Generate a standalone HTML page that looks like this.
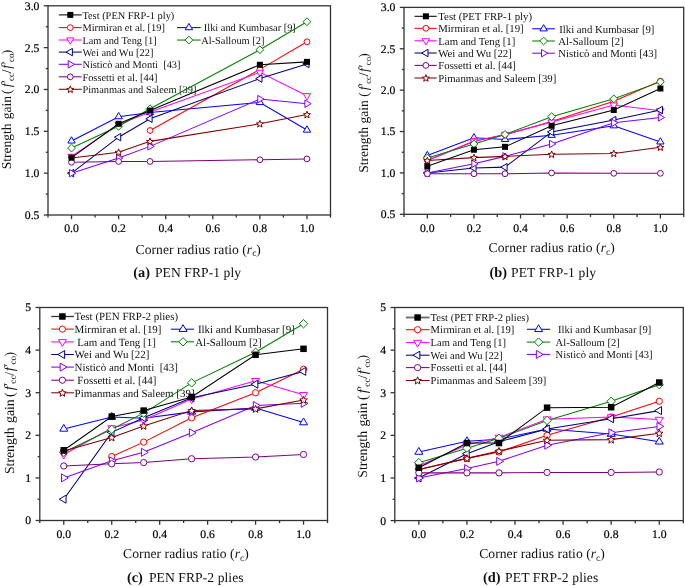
<!DOCTYPE html>
<html><head><meta charset="utf-8"><style>
html,body{margin:0;padding:0;background:#fff;}
svg{display:block;will-change:transform;}
text{font-family:"Liberation Serif",serif;fill:#111;text-rendering:geometricPrecision;}
.tk{font-size:11.7px;fill:#000;stroke:#000;stroke-width:0.2px;}
.lg{font-size:10.4px;}
.al{font-size:13.6px;}
.cp{font-size:13.6px;}
</style></head><body>
<svg width="685" height="586" viewBox="0 0 685 586">
<rect width="685" height="586" fill="#fff"/>
<line x1="58.8" y1="14.9" x2="81.7" y2="14.9" stroke="#000000" stroke-width="1.05"/>
<rect x="67.30" y="11.90" width="6.00" height="6.00" fill="#000000"/>
<text x="82.4" y="18.60" class="lg" style="font-size:10.4px" xml:space="preserve">Test (PEN FRP-1 ply)</text>
<line x1="58.8" y1="27.6" x2="81.7" y2="27.6" stroke="#ff0000" stroke-width="1.05"/>
<circle cx="70.30" cy="27.60" r="2.90" fill="#fff" stroke="#ff0000" stroke-width="1.0"/>
<text x="82.4" y="31.30" class="lg" style="font-size:10.4px" xml:space="preserve">Mirmiran et al. [19]</text>
<line x1="58.8" y1="40.0" x2="81.7" y2="40.0" stroke="#ff00ff" stroke-width="1.05"/>
<path d="M70.30 44.20L74.00 37.90L66.60 37.90Z" fill="#fff" stroke="#ff00ff" stroke-width="1.0" stroke-linejoin="miter"/>
<text x="82.4" y="43.70" class="lg" style="font-size:10.4px" xml:space="preserve">Lam and Teng [1]</text>
<line x1="58.8" y1="52.1" x2="81.7" y2="52.1" stroke="#000080" stroke-width="1.05"/>
<path d="M66.10 52.10L72.40 48.40L72.40 55.80Z" fill="#fff" stroke="#000080" stroke-width="1.0" stroke-linejoin="miter"/>
<text x="82.4" y="55.80" class="lg" style="font-size:10.4px" xml:space="preserve">Wei and Wu [22]</text>
<line x1="58.8" y1="64.3" x2="81.7" y2="64.3" stroke="#8000ff" stroke-width="1.05"/>
<path d="M74.50 64.30L68.20 60.60L68.20 68.00Z" fill="#fff" stroke="#8000ff" stroke-width="1.0" stroke-linejoin="miter"/>
<text x="82.4" y="68.00" class="lg" style="font-size:10.4px" xml:space="preserve">Nisticò&#160;and&#160;Monti&#160;&#160;[43]</text>
<line x1="58.8" y1="76.8" x2="81.7" y2="76.8" stroke="#800080" stroke-width="1.05"/>
<circle cx="70.30" cy="76.80" r="2.90" fill="#fff" stroke="#800080" stroke-width="1.0"/>
<text x="82.4" y="80.50" class="lg" style="font-size:10.4px" xml:space="preserve">Fossetti et al. [44]</text>
<line x1="58.8" y1="89.3" x2="81.7" y2="89.3" stroke="#800000" stroke-width="1.05"/>
<path d="M70.30 85.90L71.24 88.31L73.82 88.46L71.82 90.09L72.47 92.59L70.30 91.20L68.13 92.59L68.78 90.09L66.78 88.46L69.36 88.31Z" fill="#fff" stroke="#800000" stroke-width="1.0"/>
<text x="82.4" y="93.00" class="lg" style="font-size:10.4px" xml:space="preserve">Pimanmas and Saleem [39]</text>
<line x1="177.0" y1="27.6" x2="200.7" y2="27.6" stroke="#0000ff" stroke-width="1.05"/>
<path d="M188.90 23.40L192.60 29.70L185.20 29.70Z" fill="#fff" stroke="#0000ff" stroke-width="1.0" stroke-linejoin="miter"/>
<text x="201.2" y="31.30" class="lg" style="font-size:10.4px" xml:space="preserve">&#160;Ilki&#160;and&#160;Kumbasar&#160;[9]</text>
<line x1="177.0" y1="40.05" x2="200.7" y2="40.05" stroke="#008000" stroke-width="1.05"/>
<path d="M188.90 36.15L192.80 40.05L188.90 43.95L185.00 40.05Z" fill="#fff" stroke="#008000" stroke-width="1.0"/>
<text x="201.2" y="43.75" class="lg" style="font-size:10.4px" xml:space="preserve">Al-Salloum [2]</text>
<line x1="414.5" y1="16.3" x2="436.7" y2="16.3" stroke="#000000" stroke-width="1.05"/>
<rect x="422.90" y="13.30" width="6.00" height="6.00" fill="#000000"/>
<text x="438.3" y="20.00" class="lg" style="font-size:10.75px" xml:space="preserve">Test (PET FRP-1 ply)</text>
<line x1="414.5" y1="28.3" x2="436.7" y2="28.3" stroke="#ff0000" stroke-width="1.05"/>
<circle cx="425.90" cy="28.30" r="2.90" fill="#fff" stroke="#ff0000" stroke-width="1.0"/>
<text x="438.3" y="32.00" class="lg" style="font-size:10.75px" xml:space="preserve">Mirmiran et al. [19]</text>
<line x1="414.5" y1="40.8" x2="436.7" y2="40.8" stroke="#ff00ff" stroke-width="1.05"/>
<path d="M425.90 45.00L429.60 38.70L422.20 38.70Z" fill="#fff" stroke="#ff00ff" stroke-width="1.0" stroke-linejoin="miter"/>
<text x="438.3" y="44.50" class="lg" style="font-size:10.75px" xml:space="preserve">Lam and Teng [1]</text>
<line x1="414.5" y1="53.0" x2="436.7" y2="53.0" stroke="#000080" stroke-width="1.05"/>
<path d="M421.70 53.00L428.00 49.30L428.00 56.70Z" fill="#fff" stroke="#000080" stroke-width="1.0" stroke-linejoin="miter"/>
<text x="438.3" y="56.70" class="lg" style="font-size:10.75px" xml:space="preserve">Wei and Wu [22]</text>
<line x1="414.5" y1="65.4" x2="436.7" y2="65.4" stroke="#800080" stroke-width="1.05"/>
<circle cx="425.90" cy="65.40" r="2.90" fill="#fff" stroke="#800080" stroke-width="1.0"/>
<text x="438.3" y="69.10" class="lg" style="font-size:10.75px" xml:space="preserve">Fossetti et al. [44]</text>
<line x1="414.5" y1="78.0" x2="436.7" y2="78.0" stroke="#800000" stroke-width="1.05"/>
<path d="M425.90 74.60L426.84 77.01L429.42 77.16L427.42 78.79L428.07 81.29L425.90 79.90L423.73 81.29L424.38 78.79L422.38 77.16L424.96 77.01Z" fill="#fff" stroke="#800000" stroke-width="1.0"/>
<text x="438.3" y="81.70" class="lg" style="font-size:10.75px" xml:space="preserve">Pimanmas and Saleem [39]</text>
<line x1="532.2" y1="28.8" x2="554.9" y2="28.8" stroke="#0000ff" stroke-width="1.05"/>
<path d="M543.60 24.60L547.30 30.90L539.90 30.90Z" fill="#fff" stroke="#0000ff" stroke-width="1.0" stroke-linejoin="miter"/>
<text x="556.5" y="32.50" class="lg" style="font-size:10.75px" xml:space="preserve">&#160;Ilki&#160;and&#160;Kumbasar&#160;[9]</text>
<line x1="532.2" y1="41.0" x2="554.9" y2="41.0" stroke="#008000" stroke-width="1.05"/>
<path d="M543.60 37.10L547.50 41.00L543.60 44.90L539.70 41.00Z" fill="#fff" stroke="#008000" stroke-width="1.0"/>
<text x="558.3" y="44.70" class="lg" style="font-size:10.75px" xml:space="preserve">Al-Salloum [2]</text>
<line x1="532.2" y1="53.2" x2="554.9" y2="53.2" stroke="#8000ff" stroke-width="1.05"/>
<path d="M547.80 53.20L541.50 49.50L541.50 56.90Z" fill="#fff" stroke="#8000ff" stroke-width="1.0" stroke-linejoin="miter"/>
<text x="558.3" y="56.90" class="lg" style="font-size:10.75px" xml:space="preserve">Nisticò and Monti [43]</text>
<line x1="51.2" y1="316.5" x2="73.9" y2="316.5" stroke="#333" stroke-width="1.3"/>
<rect x="59.16" y="313.26" width="6.48" height="6.48" fill="#000000"/>
<text x="74.6" y="320.20" class="lg" style="font-size:10.95px" xml:space="preserve">Test (PEN FRP-2 plies)</text>
<line x1="51.2" y1="329.1" x2="73.9" y2="329.1" stroke="#ff0000" stroke-width="1.05"/>
<circle cx="62.40" cy="329.10" r="3.13" fill="#fff" stroke="#ff0000" stroke-width="1.0"/>
<text x="74.6" y="332.80" class="lg" style="font-size:10.95px" xml:space="preserve">Mirmiran et al. [19]</text>
<line x1="51.2" y1="341.9" x2="73.9" y2="341.9" stroke="#ff00ff" stroke-width="1.05"/>
<path d="M62.40 346.44L66.40 339.63L58.40 339.63Z" fill="#fff" stroke="#ff00ff" stroke-width="1.0" stroke-linejoin="miter"/>
<text x="74.6" y="345.60" class="lg" style="font-size:10.95px" xml:space="preserve">&#160;Lam&#160;and&#160;Teng&#160;[1]</text>
<line x1="51.2" y1="354.5" x2="73.9" y2="354.5" stroke="#000080" stroke-width="1.05"/>
<path d="M57.86 354.50L64.67 350.50L64.67 358.50Z" fill="#fff" stroke="#000080" stroke-width="1.0" stroke-linejoin="miter"/>
<text x="74.6" y="358.20" class="lg" style="font-size:10.95px" xml:space="preserve">Wei and Wu [22]</text>
<line x1="51.2" y1="367.1" x2="73.9" y2="367.1" stroke="#8000ff" stroke-width="1.05"/>
<path d="M66.94 367.10L60.13 363.10L60.13 371.10Z" fill="#fff" stroke="#8000ff" stroke-width="1.0" stroke-linejoin="miter"/>
<text x="74.6" y="370.80" class="lg" style="font-size:10.95px" xml:space="preserve">Nisticò&#160;and&#160;Monti&#160;&#160;[43]</text>
<line x1="51.2" y1="380.2" x2="73.9" y2="380.2" stroke="#800080" stroke-width="1.05"/>
<circle cx="62.40" cy="380.20" r="3.13" fill="#fff" stroke="#800080" stroke-width="1.0"/>
<text x="74.6" y="383.90" class="lg" style="font-size:10.95px" xml:space="preserve">&#160;Fossetti&#160;et&#160;al.&#160;[44]</text>
<line x1="51.2" y1="392.8" x2="73.9" y2="392.8" stroke="#800000" stroke-width="1.05"/>
<path d="M62.40 389.10L63.42 391.70L66.20 391.87L64.04 393.63L64.75 396.33L62.40 394.83L60.05 396.33L60.76 393.63L58.60 391.87L61.38 391.70Z" fill="#fff" stroke="#800000" stroke-width="1.0"/>
<text x="74.6" y="396.50" class="lg" style="font-size:10.95px" xml:space="preserve">Pimanmas and Saleem [39]</text>
<line x1="170.8" y1="329.2" x2="194.0" y2="329.2" stroke="#0000ff" stroke-width="1.05"/>
<path d="M183.00 324.66L187.00 331.47L179.00 331.47Z" fill="#fff" stroke="#0000ff" stroke-width="1.0" stroke-linejoin="miter"/>
<text x="195.2" y="332.90" class="lg" style="font-size:10.95px" xml:space="preserve">&#160;Ilki&#160;and&#160;Kumbasar&#160;[9]</text>
<line x1="170.8" y1="341.8" x2="194.0" y2="341.8" stroke="#008000" stroke-width="1.05"/>
<path d="M183.00 337.59L187.21 341.80L183.00 346.01L178.79 341.80Z" fill="#fff" stroke="#008000" stroke-width="1.0"/>
<text x="195.2" y="345.50" class="lg" style="font-size:10.95px" xml:space="preserve">Al-Salloum [2]</text>
<line x1="405.9" y1="317.5" x2="429.6" y2="317.5" stroke="#707070" stroke-width="1.9"/>
<rect x="414.36" y="314.26" width="6.48" height="6.48" fill="#000000"/>
<text x="430.6" y="321.20" class="lg" style="font-size:10.55px" xml:space="preserve">Test (PET FRP-2 plies)</text>
<line x1="405.9" y1="329.7" x2="429.6" y2="329.7" stroke="#ff0000" stroke-width="1.05"/>
<circle cx="417.60" cy="329.70" r="3.13" fill="#fff" stroke="#ff0000" stroke-width="1.0"/>
<text x="430.6" y="333.40" class="lg" style="font-size:10.55px" xml:space="preserve">Mirmiran et al. [19]</text>
<line x1="405.9" y1="342.6" x2="429.6" y2="342.6" stroke="#ff00ff" stroke-width="1.05"/>
<path d="M417.60 347.14L421.60 340.33L413.60 340.33Z" fill="#fff" stroke="#ff00ff" stroke-width="1.0" stroke-linejoin="miter"/>
<text x="430.6" y="346.30" class="lg" style="font-size:10.55px" xml:space="preserve">Lam and Teng [1]</text>
<line x1="405.9" y1="355.2" x2="429.6" y2="355.2" stroke="#000080" stroke-width="1.05"/>
<path d="M413.06 355.20L419.87 351.20L419.87 359.20Z" fill="#fff" stroke="#000080" stroke-width="1.0" stroke-linejoin="miter"/>
<text x="430.6" y="358.90" class="lg" style="font-size:10.55px" xml:space="preserve">Wei and Wu [22]</text>
<line x1="405.9" y1="367.6" x2="429.6" y2="367.6" stroke="#800080" stroke-width="1.05"/>
<circle cx="417.60" cy="367.60" r="3.13" fill="#fff" stroke="#800080" stroke-width="1.0"/>
<text x="430.6" y="371.30" class="lg" style="font-size:10.55px" xml:space="preserve">Fossetti et al. [44]</text>
<line x1="405.9" y1="380.5" x2="429.6" y2="380.5" stroke="#800000" stroke-width="1.05"/>
<path d="M417.60 376.80L418.62 379.40L421.40 379.57L419.24 381.33L419.95 384.03L417.60 382.53L415.25 384.03L415.96 381.33L413.80 379.57L416.58 379.40Z" fill="#fff" stroke="#800000" stroke-width="1.0"/>
<text x="430.6" y="384.20" class="lg" style="font-size:10.55px" xml:space="preserve">Pimanmas and Saleem [39]</text>
<line x1="526.8" y1="329.3" x2="550.2" y2="329.3" stroke="#0000ff" stroke-width="1.05"/>
<path d="M538.60 324.76L542.60 331.57L534.60 331.57Z" fill="#fff" stroke="#0000ff" stroke-width="1.0" stroke-linejoin="miter"/>
<text x="555.3000000000001" y="333.00" class="lg" style="font-size:10.55px" xml:space="preserve">&#160;Ilki&#160;and&#160;Kumbasar&#160;[9]</text>
<line x1="526.8" y1="342.1" x2="550.2" y2="342.1" stroke="#008000" stroke-width="1.05"/>
<path d="M538.60 337.89L542.81 342.10L538.60 346.31L534.39 342.10Z" fill="#fff" stroke="#008000" stroke-width="1.0"/>
<text x="555.6" y="345.80" class="lg" style="font-size:10.55px" xml:space="preserve">Al-Salloum [2]</text>
<line x1="526.8" y1="354.4" x2="550.2" y2="354.4" stroke="#8000ff" stroke-width="1.05"/>
<path d="M543.14 354.40L536.33 350.40L536.33 358.40Z" fill="#fff" stroke="#8000ff" stroke-width="1.0" stroke-linejoin="miter"/>
<text x="555.6" y="358.10" class="lg" style="font-size:10.55px" xml:space="preserve">Nisticò and Monti [43]</text>
<rect x="48.00" y="5.80" width="282.50" height="209.20" fill="none" stroke="#333" stroke-width="1.3"/>
<line x1="48.00" y1="215.00" x2="48.00" y2="217.60" stroke="#333" stroke-width="1.3"/>
<line x1="71.54" y1="215.00" x2="71.54" y2="219.20" stroke="#333" stroke-width="1.3"/>
<text x="71.54" y="232.30" class="tk" text-anchor="middle">0.0</text>
<line x1="95.08" y1="215.00" x2="95.08" y2="217.60" stroke="#333" stroke-width="1.3"/>
<line x1="118.63" y1="215.00" x2="118.63" y2="219.20" stroke="#333" stroke-width="1.3"/>
<text x="118.63" y="232.30" class="tk" text-anchor="middle">0.2</text>
<line x1="142.17" y1="215.00" x2="142.17" y2="217.60" stroke="#333" stroke-width="1.3"/>
<line x1="165.71" y1="215.00" x2="165.71" y2="219.20" stroke="#333" stroke-width="1.3"/>
<text x="165.71" y="232.30" class="tk" text-anchor="middle">0.4</text>
<line x1="189.25" y1="215.00" x2="189.25" y2="217.60" stroke="#333" stroke-width="1.3"/>
<line x1="212.79" y1="215.00" x2="212.79" y2="219.20" stroke="#333" stroke-width="1.3"/>
<text x="212.79" y="232.30" class="tk" text-anchor="middle">0.6</text>
<line x1="236.33" y1="215.00" x2="236.33" y2="217.60" stroke="#333" stroke-width="1.3"/>
<line x1="259.88" y1="215.00" x2="259.88" y2="219.20" stroke="#333" stroke-width="1.3"/>
<text x="259.88" y="232.30" class="tk" text-anchor="middle">0.8</text>
<line x1="283.42" y1="215.00" x2="283.42" y2="217.60" stroke="#333" stroke-width="1.3"/>
<line x1="306.96" y1="215.00" x2="306.96" y2="219.20" stroke="#333" stroke-width="1.3"/>
<text x="306.96" y="232.30" class="tk" text-anchor="middle">1.0</text>
<line x1="330.50" y1="215.00" x2="330.50" y2="217.60" stroke="#333" stroke-width="1.3"/>
<line x1="43.80" y1="215.00" x2="48.00" y2="215.00" stroke="#333" stroke-width="1.3"/>
<text x="39.40" y="218.90" class="tk" text-anchor="end">0.5</text>
<line x1="45.80" y1="194.08" x2="48.00" y2="194.08" stroke="#333" stroke-width="1.3"/>
<line x1="43.80" y1="173.16" x2="48.00" y2="173.16" stroke="#333" stroke-width="1.3"/>
<text x="39.40" y="177.06" class="tk" text-anchor="end">1.0</text>
<line x1="45.80" y1="152.24" x2="48.00" y2="152.24" stroke="#333" stroke-width="1.3"/>
<line x1="43.80" y1="131.32" x2="48.00" y2="131.32" stroke="#333" stroke-width="1.3"/>
<text x="39.40" y="135.22" class="tk" text-anchor="end">1.5</text>
<line x1="45.80" y1="110.40" x2="48.00" y2="110.40" stroke="#333" stroke-width="1.3"/>
<line x1="43.80" y1="89.48" x2="48.00" y2="89.48" stroke="#333" stroke-width="1.3"/>
<text x="39.40" y="93.38" class="tk" text-anchor="end">2.0</text>
<line x1="45.80" y1="68.56" x2="48.00" y2="68.56" stroke="#333" stroke-width="1.3"/>
<line x1="43.80" y1="47.64" x2="48.00" y2="47.64" stroke="#333" stroke-width="1.3"/>
<text x="39.40" y="51.54" class="tk" text-anchor="end">2.5</text>
<line x1="45.80" y1="26.72" x2="48.00" y2="26.72" stroke="#333" stroke-width="1.3"/>
<line x1="43.80" y1="5.80" x2="48.00" y2="5.80" stroke="#333" stroke-width="1.3"/>
<text x="39.40" y="9.70" class="tk" text-anchor="end">3.0</text>
<polyline points="71.54,140.94 118.63,116.68 150.01,112.49 259.88,102.45 306.96,130.06" fill="none" stroke="#0000ff" stroke-width="1.05"/>
<path d="M71.54 136.74L75.24 143.04L67.84 143.04Z" fill="#fff" stroke="#0000ff" stroke-width="1.0" stroke-linejoin="miter"/>
<path d="M118.63 112.48L122.33 118.78L114.93 118.78Z" fill="#fff" stroke="#0000ff" stroke-width="1.0" stroke-linejoin="miter"/>
<path d="M150.01 108.29L153.71 114.59L146.31 114.59Z" fill="#fff" stroke="#0000ff" stroke-width="1.0" stroke-linejoin="miter"/>
<path d="M259.88 98.25L263.57 104.55L256.18 104.55Z" fill="#fff" stroke="#0000ff" stroke-width="1.0" stroke-linejoin="miter"/>
<path d="M306.96 125.86L310.66 132.16L303.26 132.16Z" fill="#fff" stroke="#0000ff" stroke-width="1.0" stroke-linejoin="miter"/>
<polyline points="150.01,130.48 259.88,69.40 306.96,41.78" fill="none" stroke="#ff0000" stroke-width="1.05"/>
<circle cx="150.01" cy="130.48" r="2.90" fill="#fff" stroke="#ff0000" stroke-width="1.0"/>
<circle cx="259.88" cy="69.40" r="2.90" fill="#fff" stroke="#ff0000" stroke-width="1.0"/>
<circle cx="306.96" cy="41.78" r="2.90" fill="#fff" stroke="#ff0000" stroke-width="1.0"/>
<polyline points="71.54,156.42 118.63,124.63 150.01,112.07 259.88,72.33 306.96,95.76" fill="none" stroke="#ff00ff" stroke-width="1.05"/>
<path d="M71.54 160.62L75.24 154.32L67.84 154.32Z" fill="#fff" stroke="#ff00ff" stroke-width="1.0" stroke-linejoin="miter"/>
<path d="M118.63 128.83L122.33 122.53L114.93 122.53Z" fill="#fff" stroke="#ff00ff" stroke-width="1.0" stroke-linejoin="miter"/>
<path d="M150.01 116.27L153.71 109.97L146.31 109.97Z" fill="#fff" stroke="#ff00ff" stroke-width="1.0" stroke-linejoin="miter"/>
<path d="M259.88 76.53L263.57 70.23L256.18 70.23Z" fill="#fff" stroke="#ff00ff" stroke-width="1.0" stroke-linejoin="miter"/>
<path d="M306.96 99.96L310.66 93.66L303.26 93.66Z" fill="#fff" stroke="#ff00ff" stroke-width="1.0" stroke-linejoin="miter"/>
<polyline points="71.54,173.16 118.63,137.18 150.01,118.77 259.88,78.60 306.96,63.96" fill="none" stroke="#000080" stroke-width="1.05"/>
<path d="M67.34 173.16L73.64 169.46L73.64 176.86Z" fill="#fff" stroke="#000080" stroke-width="1.0" stroke-linejoin="miter"/>
<path d="M114.43 137.18L120.73 133.48L120.73 140.88Z" fill="#fff" stroke="#000080" stroke-width="1.0" stroke-linejoin="miter"/>
<path d="M145.81 118.77L152.11 115.07L152.11 122.47Z" fill="#fff" stroke="#000080" stroke-width="1.0" stroke-linejoin="miter"/>
<path d="M255.68 78.60L261.98 74.90L261.98 82.30Z" fill="#fff" stroke="#000080" stroke-width="1.0" stroke-linejoin="miter"/>
<path d="M302.76 63.96L309.06 60.26L309.06 67.66Z" fill="#fff" stroke="#000080" stroke-width="1.0" stroke-linejoin="miter"/>
<polyline points="71.54,173.16 118.63,158.10 150.01,146.38 259.88,99.10 306.96,103.71" fill="none" stroke="#8000ff" stroke-width="1.05"/>
<path d="M75.74 173.16L69.44 169.46L69.44 176.86Z" fill="#fff" stroke="#8000ff" stroke-width="1.0" stroke-linejoin="miter"/>
<path d="M122.83 158.10L116.53 154.40L116.53 161.80Z" fill="#fff" stroke="#8000ff" stroke-width="1.0" stroke-linejoin="miter"/>
<path d="M154.21 146.38L147.91 142.68L147.91 150.08Z" fill="#fff" stroke="#8000ff" stroke-width="1.0" stroke-linejoin="miter"/>
<path d="M264.07 99.10L257.77 95.40L257.77 102.80Z" fill="#fff" stroke="#8000ff" stroke-width="1.0" stroke-linejoin="miter"/>
<path d="M311.16 103.71L304.86 100.01L304.86 107.41Z" fill="#fff" stroke="#8000ff" stroke-width="1.0" stroke-linejoin="miter"/>
<polyline points="71.54,148.06 118.63,126.30 150.01,108.73 259.88,49.73 306.96,21.70" fill="none" stroke="#008000" stroke-width="1.05"/>
<path d="M71.54 144.16L75.44 148.06L71.54 151.96L67.64 148.06Z" fill="#fff" stroke="#008000" stroke-width="1.0"/>
<path d="M118.63 122.40L122.53 126.30L118.63 130.20L114.73 126.30Z" fill="#fff" stroke="#008000" stroke-width="1.0"/>
<path d="M150.01 104.83L153.91 108.73L150.01 112.63L146.11 108.73Z" fill="#fff" stroke="#008000" stroke-width="1.0"/>
<path d="M259.88 45.83L263.77 49.73L259.88 53.63L255.97 49.73Z" fill="#fff" stroke="#008000" stroke-width="1.0"/>
<path d="M306.96 17.80L310.86 21.70L306.96 25.60L303.06 21.70Z" fill="#fff" stroke="#008000" stroke-width="1.0"/>
<polyline points="71.54,158.10 118.63,152.24 150.01,141.36 259.88,123.79 306.96,114.58" fill="none" stroke="#800000" stroke-width="1.05"/>
<path d="M71.54 154.70L72.48 157.10L75.06 157.25L73.06 158.89L73.72 161.39L71.54 160.00L69.37 161.39L70.02 158.89L68.02 157.25L70.60 157.10Z" fill="#fff" stroke="#800000" stroke-width="1.0"/>
<path d="M118.63 148.84L119.57 151.25L122.14 151.40L120.15 153.03L120.80 155.53L118.63 154.14L116.45 155.53L117.10 153.03L115.11 151.40L117.68 151.25Z" fill="#fff" stroke="#800000" stroke-width="1.0"/>
<path d="M150.01 137.96L150.95 140.37L153.53 140.52L151.54 142.16L152.19 144.65L150.01 143.26L147.84 144.65L148.49 142.16L146.49 140.52L149.07 140.37Z" fill="#fff" stroke="#800000" stroke-width="1.0"/>
<path d="M259.88 120.39L260.82 122.79L263.39 122.95L261.40 124.58L262.05 127.08L259.88 125.69L257.70 127.08L258.35 124.58L256.36 122.95L258.93 122.79Z" fill="#fff" stroke="#800000" stroke-width="1.0"/>
<path d="M306.96 111.18L307.90 113.59L310.48 113.74L308.48 115.38L309.13 117.88L306.96 116.48L304.78 117.88L305.44 115.38L303.44 113.74L306.02 113.59Z" fill="#fff" stroke="#800000" stroke-width="1.0"/>
<polyline points="71.54,162.28 118.63,161.44 150.01,161.44 259.88,159.77 306.96,158.93" fill="none" stroke="#800080" stroke-width="1.05"/>
<circle cx="71.54" cy="162.28" r="2.90" fill="#fff" stroke="#800080" stroke-width="1.0"/>
<circle cx="118.63" cy="161.44" r="2.90" fill="#fff" stroke="#800080" stroke-width="1.0"/>
<circle cx="150.01" cy="161.44" r="2.90" fill="#fff" stroke="#800080" stroke-width="1.0"/>
<circle cx="259.88" cy="159.77" r="2.90" fill="#fff" stroke="#800080" stroke-width="1.0"/>
<circle cx="306.96" cy="158.93" r="2.90" fill="#fff" stroke="#800080" stroke-width="1.0"/>
<polyline points="71.54,157.68 118.63,123.79 150.01,110.57 259.88,64.79 306.96,61.87" fill="none" stroke="#000000" stroke-width="1.05"/>
<rect x="68.54" y="154.68" width="6.00" height="6.00" fill="#000000"/>
<rect x="115.63" y="120.79" width="6.00" height="6.00" fill="#000000"/>
<rect x="147.01" y="107.57" width="6.00" height="6.00" fill="#000000"/>
<rect x="256.88" y="61.79" width="6.00" height="6.00" fill="#000000"/>
<rect x="303.96" y="58.87" width="6.00" height="6.00" fill="#000000"/>
<rect x="404.00" y="7.40" width="279.70" height="206.90" fill="none" stroke="#333" stroke-width="1.3"/>
<line x1="404.00" y1="214.30" x2="404.00" y2="216.90" stroke="#333" stroke-width="1.3"/>
<line x1="427.31" y1="214.30" x2="427.31" y2="218.50" stroke="#333" stroke-width="1.3"/>
<text x="427.31" y="231.60" class="tk" text-anchor="middle">0.0</text>
<line x1="450.62" y1="214.30" x2="450.62" y2="216.90" stroke="#333" stroke-width="1.3"/>
<line x1="473.93" y1="214.30" x2="473.93" y2="218.50" stroke="#333" stroke-width="1.3"/>
<text x="473.93" y="231.60" class="tk" text-anchor="middle">0.2</text>
<line x1="497.23" y1="214.30" x2="497.23" y2="216.90" stroke="#333" stroke-width="1.3"/>
<line x1="520.54" y1="214.30" x2="520.54" y2="218.50" stroke="#333" stroke-width="1.3"/>
<text x="520.54" y="231.60" class="tk" text-anchor="middle">0.4</text>
<line x1="543.85" y1="214.30" x2="543.85" y2="216.90" stroke="#333" stroke-width="1.3"/>
<line x1="567.16" y1="214.30" x2="567.16" y2="218.50" stroke="#333" stroke-width="1.3"/>
<text x="567.16" y="231.60" class="tk" text-anchor="middle">0.6</text>
<line x1="590.47" y1="214.30" x2="590.47" y2="216.90" stroke="#333" stroke-width="1.3"/>
<line x1="613.78" y1="214.30" x2="613.78" y2="218.50" stroke="#333" stroke-width="1.3"/>
<text x="613.78" y="231.60" class="tk" text-anchor="middle">0.8</text>
<line x1="637.08" y1="214.30" x2="637.08" y2="216.90" stroke="#333" stroke-width="1.3"/>
<line x1="660.39" y1="214.30" x2="660.39" y2="218.50" stroke="#333" stroke-width="1.3"/>
<text x="660.39" y="231.60" class="tk" text-anchor="middle">1.0</text>
<line x1="683.70" y1="214.30" x2="683.70" y2="216.90" stroke="#333" stroke-width="1.3"/>
<line x1="399.80" y1="214.30" x2="404.00" y2="214.30" stroke="#333" stroke-width="1.3"/>
<text x="395.40" y="218.20" class="tk" text-anchor="end">0.5</text>
<line x1="401.80" y1="193.61" x2="404.00" y2="193.61" stroke="#333" stroke-width="1.3"/>
<line x1="399.80" y1="172.92" x2="404.00" y2="172.92" stroke="#333" stroke-width="1.3"/>
<text x="395.40" y="176.82" class="tk" text-anchor="end">1.0</text>
<line x1="401.80" y1="152.23" x2="404.00" y2="152.23" stroke="#333" stroke-width="1.3"/>
<line x1="399.80" y1="131.54" x2="404.00" y2="131.54" stroke="#333" stroke-width="1.3"/>
<text x="395.40" y="135.44" class="tk" text-anchor="end">1.5</text>
<line x1="401.80" y1="110.85" x2="404.00" y2="110.85" stroke="#333" stroke-width="1.3"/>
<line x1="399.80" y1="90.16" x2="404.00" y2="90.16" stroke="#333" stroke-width="1.3"/>
<text x="395.40" y="94.06" class="tk" text-anchor="end">2.0</text>
<line x1="401.80" y1="69.47" x2="404.00" y2="69.47" stroke="#333" stroke-width="1.3"/>
<line x1="399.80" y1="48.78" x2="404.00" y2="48.78" stroke="#333" stroke-width="1.3"/>
<text x="395.40" y="52.68" class="tk" text-anchor="end">2.5</text>
<line x1="401.80" y1="28.09" x2="404.00" y2="28.09" stroke="#333" stroke-width="1.3"/>
<line x1="399.80" y1="7.40" x2="404.00" y2="7.40" stroke="#333" stroke-width="1.3"/>
<text x="395.40" y="11.30" class="tk" text-anchor="end">3.0</text>
<polyline points="427.31,155.54 473.93,137.75 505.00,139.40 551.61,135.26 613.78,125.75 660.39,141.89" fill="none" stroke="#0000ff" stroke-width="1.05"/>
<path d="M427.31 151.34L431.01 157.64L423.61 157.64Z" fill="#fff" stroke="#0000ff" stroke-width="1.0" stroke-linejoin="miter"/>
<path d="M473.93 133.55L477.62 139.85L470.23 139.85Z" fill="#fff" stroke="#0000ff" stroke-width="1.0" stroke-linejoin="miter"/>
<path d="M505.00 135.20L508.70 141.50L501.30 141.50Z" fill="#fff" stroke="#0000ff" stroke-width="1.0" stroke-linejoin="miter"/>
<path d="M551.61 131.06L555.31 137.36L547.91 137.36Z" fill="#fff" stroke="#0000ff" stroke-width="1.0" stroke-linejoin="miter"/>
<path d="M613.78 121.55L617.48 127.85L610.08 127.85Z" fill="#fff" stroke="#0000ff" stroke-width="1.0" stroke-linejoin="miter"/>
<path d="M660.39 137.69L664.09 143.99L656.69 143.99Z" fill="#fff" stroke="#0000ff" stroke-width="1.0" stroke-linejoin="miter"/>
<polyline points="427.31,160.51 473.93,141.22 505.00,134.85 551.61,121.61 613.78,101.33 660.39,81.06" fill="none" stroke="#ff0000" stroke-width="1.05"/>
<circle cx="427.31" cy="160.51" r="2.90" fill="#fff" stroke="#ff0000" stroke-width="1.0"/>
<circle cx="473.93" cy="141.22" r="2.90" fill="#fff" stroke="#ff0000" stroke-width="1.0"/>
<circle cx="505.00" cy="134.85" r="2.90" fill="#fff" stroke="#ff0000" stroke-width="1.0"/>
<circle cx="551.61" cy="121.61" r="2.90" fill="#fff" stroke="#ff0000" stroke-width="1.0"/>
<circle cx="613.78" cy="101.33" r="2.90" fill="#fff" stroke="#ff0000" stroke-width="1.0"/>
<circle cx="660.39" cy="81.06" r="2.90" fill="#fff" stroke="#ff0000" stroke-width="1.0"/>
<polyline points="427.31,160.51 473.93,141.22 505.00,134.44 551.61,122.02 613.78,105.06 660.39,110.85" fill="none" stroke="#ff00ff" stroke-width="1.05"/>
<path d="M427.31 164.71L431.01 158.41L423.61 158.41Z" fill="#fff" stroke="#ff00ff" stroke-width="1.0" stroke-linejoin="miter"/>
<path d="M473.93 145.42L477.62 139.12L470.23 139.12Z" fill="#fff" stroke="#ff00ff" stroke-width="1.0" stroke-linejoin="miter"/>
<path d="M505.00 138.64L508.70 132.34L501.30 132.34Z" fill="#fff" stroke="#ff00ff" stroke-width="1.0" stroke-linejoin="miter"/>
<path d="M551.61 126.22L555.31 119.92L547.91 119.92Z" fill="#fff" stroke="#ff00ff" stroke-width="1.0" stroke-linejoin="miter"/>
<path d="M613.78 109.26L617.48 102.96L610.08 102.96Z" fill="#fff" stroke="#ff00ff" stroke-width="1.0" stroke-linejoin="miter"/>
<path d="M660.39 115.05L664.09 108.75L656.69 108.75Z" fill="#fff" stroke="#ff00ff" stroke-width="1.0" stroke-linejoin="miter"/>
<polyline points="427.31,172.92 473.93,167.95 505.00,167.13 551.61,131.95 613.78,119.95 660.39,110.02" fill="none" stroke="#000080" stroke-width="1.05"/>
<path d="M423.11 172.92L429.41 169.22L429.41 176.62Z" fill="#fff" stroke="#000080" stroke-width="1.0" stroke-linejoin="miter"/>
<path d="M469.73 167.95L476.03 164.25L476.03 171.65Z" fill="#fff" stroke="#000080" stroke-width="1.0" stroke-linejoin="miter"/>
<path d="M500.80 167.13L507.10 163.43L507.10 170.83Z" fill="#fff" stroke="#000080" stroke-width="1.0" stroke-linejoin="miter"/>
<path d="M547.41 131.95L553.71 128.25L553.71 135.65Z" fill="#fff" stroke="#000080" stroke-width="1.0" stroke-linejoin="miter"/>
<path d="M609.58 119.95L615.88 116.25L615.88 123.65Z" fill="#fff" stroke="#000080" stroke-width="1.0" stroke-linejoin="miter"/>
<path d="M656.19 110.02L662.49 106.32L662.49 113.72Z" fill="#fff" stroke="#000080" stroke-width="1.0" stroke-linejoin="miter"/>
<polyline points="427.31,172.92 473.93,163.82 505.00,156.37 551.61,143.95 613.78,122.85 660.39,117.47" fill="none" stroke="#8000ff" stroke-width="1.05"/>
<path d="M431.51 172.92L425.21 169.22L425.21 176.62Z" fill="#fff" stroke="#8000ff" stroke-width="1.0" stroke-linejoin="miter"/>
<path d="M478.12 163.82L471.82 160.12L471.82 167.52Z" fill="#fff" stroke="#8000ff" stroke-width="1.0" stroke-linejoin="miter"/>
<path d="M509.20 156.37L502.90 152.67L502.90 160.07Z" fill="#fff" stroke="#8000ff" stroke-width="1.0" stroke-linejoin="miter"/>
<path d="M555.81 143.95L549.51 140.25L549.51 147.65Z" fill="#fff" stroke="#8000ff" stroke-width="1.0" stroke-linejoin="miter"/>
<path d="M617.98 122.85L611.68 119.15L611.68 126.55Z" fill="#fff" stroke="#8000ff" stroke-width="1.0" stroke-linejoin="miter"/>
<path d="M664.59 117.47L658.29 113.77L658.29 121.17Z" fill="#fff" stroke="#8000ff" stroke-width="1.0" stroke-linejoin="miter"/>
<polyline points="427.31,158.02 473.93,143.95 505.00,134.44 551.61,116.64 613.78,98.85 660.39,81.88" fill="none" stroke="#008000" stroke-width="1.05"/>
<path d="M427.31 154.12L431.21 158.02L427.31 161.92L423.41 158.02Z" fill="#fff" stroke="#008000" stroke-width="1.0"/>
<path d="M473.93 140.05L477.82 143.95L473.93 147.85L470.03 143.95Z" fill="#fff" stroke="#008000" stroke-width="1.0"/>
<path d="M505.00 130.54L508.90 134.44L505.00 138.34L501.10 134.44Z" fill="#fff" stroke="#008000" stroke-width="1.0"/>
<path d="M551.61 112.74L555.51 116.64L551.61 120.54L547.71 116.64Z" fill="#fff" stroke="#008000" stroke-width="1.0"/>
<path d="M613.78 94.95L617.68 98.85L613.78 102.75L609.88 98.85Z" fill="#fff" stroke="#008000" stroke-width="1.0"/>
<path d="M660.39 77.98L664.29 81.88L660.39 85.78L656.49 81.88Z" fill="#fff" stroke="#008000" stroke-width="1.0"/>
<polyline points="427.31,160.51 473.93,157.61 505.00,156.37 551.61,154.30 613.78,153.47 660.39,147.26" fill="none" stroke="#800000" stroke-width="1.05"/>
<path d="M427.31 157.11L428.25 159.51L430.83 159.66L428.83 161.30L429.48 163.80L427.31 162.41L425.13 163.80L425.79 161.30L423.79 159.66L426.37 159.51Z" fill="#fff" stroke="#800000" stroke-width="1.0"/>
<path d="M473.93 154.21L474.87 156.61L477.44 156.77L475.45 158.40L476.10 160.90L473.93 159.51L471.75 160.90L472.40 158.40L470.41 156.77L472.98 156.61Z" fill="#fff" stroke="#800000" stroke-width="1.0"/>
<path d="M505.00 152.97L505.94 155.37L508.52 155.52L506.52 157.16L507.18 159.66L505.00 158.27L502.83 159.66L503.48 157.16L501.48 155.52L504.06 155.37Z" fill="#fff" stroke="#800000" stroke-width="1.0"/>
<path d="M551.61 150.90L552.55 153.30L555.13 153.46L553.13 155.09L553.79 157.59L551.61 156.20L549.44 157.59L550.09 155.09L548.09 153.46L550.67 153.30Z" fill="#fff" stroke="#800000" stroke-width="1.0"/>
<path d="M613.78 150.07L614.72 152.48L617.29 152.63L615.30 154.27L615.95 156.76L613.78 155.37L611.60 156.76L612.25 154.27L610.26 152.63L612.83 152.48Z" fill="#fff" stroke="#800000" stroke-width="1.0"/>
<path d="M660.39 143.86L661.33 146.27L663.91 146.42L661.91 148.06L662.57 150.56L660.39 149.16L658.22 150.56L658.87 148.06L656.87 146.42L659.45 146.27Z" fill="#fff" stroke="#800000" stroke-width="1.0"/>
<polyline points="427.31,173.75 473.93,173.75 505.00,173.75 551.61,172.92 613.78,173.33 660.39,173.33" fill="none" stroke="#800080" stroke-width="1.05"/>
<circle cx="427.31" cy="173.75" r="2.90" fill="#fff" stroke="#800080" stroke-width="1.0"/>
<circle cx="473.93" cy="173.75" r="2.90" fill="#fff" stroke="#800080" stroke-width="1.0"/>
<circle cx="505.00" cy="173.75" r="2.90" fill="#fff" stroke="#800080" stroke-width="1.0"/>
<circle cx="551.61" cy="172.92" r="2.90" fill="#fff" stroke="#800080" stroke-width="1.0"/>
<circle cx="613.78" cy="173.33" r="2.90" fill="#fff" stroke="#800080" stroke-width="1.0"/>
<circle cx="660.39" cy="173.33" r="2.90" fill="#fff" stroke="#800080" stroke-width="1.0"/>
<polyline points="427.31,166.30 473.93,149.75 505.00,146.85 551.61,125.75 613.78,110.02 660.39,88.50" fill="none" stroke="#000000" stroke-width="1.05"/>
<rect x="424.31" y="163.30" width="6.00" height="6.00" fill="#000000"/>
<rect x="470.93" y="146.75" width="6.00" height="6.00" fill="#000000"/>
<rect x="502.00" y="143.85" width="6.00" height="6.00" fill="#000000"/>
<rect x="548.61" y="122.75" width="6.00" height="6.00" fill="#000000"/>
<rect x="610.78" y="107.02" width="6.00" height="6.00" fill="#000000"/>
<rect x="657.39" y="85.50" width="6.00" height="6.00" fill="#000000"/>
<rect x="39.80" y="307.50" width="287.70" height="213.00" fill="none" stroke="#333" stroke-width="1.3"/>
<line x1="39.80" y1="520.50" x2="39.80" y2="523.10" stroke="#333" stroke-width="1.3"/>
<line x1="63.77" y1="520.50" x2="63.77" y2="524.70" stroke="#333" stroke-width="1.3"/>
<text x="63.77" y="537.80" class="tk" text-anchor="middle">0.0</text>
<line x1="87.75" y1="520.50" x2="87.75" y2="523.10" stroke="#333" stroke-width="1.3"/>
<line x1="111.73" y1="520.50" x2="111.73" y2="524.70" stroke="#333" stroke-width="1.3"/>
<text x="111.73" y="537.80" class="tk" text-anchor="middle">0.2</text>
<line x1="135.70" y1="520.50" x2="135.70" y2="523.10" stroke="#333" stroke-width="1.3"/>
<line x1="159.68" y1="520.50" x2="159.68" y2="524.70" stroke="#333" stroke-width="1.3"/>
<text x="159.68" y="537.80" class="tk" text-anchor="middle">0.4</text>
<line x1="183.65" y1="520.50" x2="183.65" y2="523.10" stroke="#333" stroke-width="1.3"/>
<line x1="207.62" y1="520.50" x2="207.62" y2="524.70" stroke="#333" stroke-width="1.3"/>
<text x="207.62" y="537.80" class="tk" text-anchor="middle">0.6</text>
<line x1="231.60" y1="520.50" x2="231.60" y2="523.10" stroke="#333" stroke-width="1.3"/>
<line x1="255.57" y1="520.50" x2="255.57" y2="524.70" stroke="#333" stroke-width="1.3"/>
<text x="255.57" y="537.80" class="tk" text-anchor="middle">0.8</text>
<line x1="279.55" y1="520.50" x2="279.55" y2="523.10" stroke="#333" stroke-width="1.3"/>
<line x1="303.53" y1="520.50" x2="303.53" y2="524.70" stroke="#333" stroke-width="1.3"/>
<text x="303.53" y="537.80" class="tk" text-anchor="middle">1.0</text>
<line x1="327.50" y1="520.50" x2="327.50" y2="523.10" stroke="#333" stroke-width="1.3"/>
<line x1="35.60" y1="520.50" x2="39.80" y2="520.50" stroke="#333" stroke-width="1.3"/>
<text x="31.20" y="524.40" class="tk" text-anchor="end">0</text>
<line x1="37.60" y1="499.20" x2="39.80" y2="499.20" stroke="#333" stroke-width="1.3"/>
<line x1="35.60" y1="477.90" x2="39.80" y2="477.90" stroke="#333" stroke-width="1.3"/>
<text x="31.20" y="481.80" class="tk" text-anchor="end">1</text>
<line x1="37.60" y1="456.60" x2="39.80" y2="456.60" stroke="#333" stroke-width="1.3"/>
<line x1="35.60" y1="435.30" x2="39.80" y2="435.30" stroke="#333" stroke-width="1.3"/>
<text x="31.20" y="439.20" class="tk" text-anchor="end">2</text>
<line x1="37.60" y1="414.00" x2="39.80" y2="414.00" stroke="#333" stroke-width="1.3"/>
<line x1="35.60" y1="392.70" x2="39.80" y2="392.70" stroke="#333" stroke-width="1.3"/>
<text x="31.20" y="396.60" class="tk" text-anchor="end">3</text>
<line x1="37.60" y1="371.40" x2="39.80" y2="371.40" stroke="#333" stroke-width="1.3"/>
<line x1="35.60" y1="350.10" x2="39.80" y2="350.10" stroke="#333" stroke-width="1.3"/>
<text x="31.20" y="354.00" class="tk" text-anchor="end">4</text>
<line x1="37.60" y1="328.80" x2="39.80" y2="328.80" stroke="#333" stroke-width="1.3"/>
<line x1="35.60" y1="307.50" x2="39.80" y2="307.50" stroke="#333" stroke-width="1.3"/>
<text x="31.20" y="311.40" class="tk" text-anchor="end">5</text>
<polyline points="63.77,428.91 111.73,416.98 143.69,418.26 191.63,411.87 255.57,408.04 303.53,422.52" fill="none" stroke="#0000ff" stroke-width="1.05"/>
<path d="M63.77 424.37L67.77 431.18L59.78 431.18Z" fill="#fff" stroke="#0000ff" stroke-width="1.0" stroke-linejoin="miter"/>
<path d="M111.73 412.45L115.72 419.25L107.73 419.25Z" fill="#fff" stroke="#0000ff" stroke-width="1.0" stroke-linejoin="miter"/>
<path d="M143.69 413.72L147.69 420.53L139.70 420.53Z" fill="#fff" stroke="#0000ff" stroke-width="1.0" stroke-linejoin="miter"/>
<path d="M191.63 407.33L195.63 414.14L187.64 414.14Z" fill="#fff" stroke="#0000ff" stroke-width="1.0" stroke-linejoin="miter"/>
<path d="M255.57 403.50L259.57 410.30L251.58 410.30Z" fill="#fff" stroke="#0000ff" stroke-width="1.0" stroke-linejoin="miter"/>
<path d="M303.53 417.98L307.52 424.79L299.53 424.79Z" fill="#fff" stroke="#0000ff" stroke-width="1.0" stroke-linejoin="miter"/>
<polyline points="111.73,456.60 143.69,442.12 191.63,417.83 255.57,392.70 303.53,369.27" fill="none" stroke="#ff0000" stroke-width="1.05"/>
<circle cx="111.73" cy="456.60" r="3.13" fill="#fff" stroke="#ff0000" stroke-width="1.0"/>
<circle cx="143.69" cy="442.12" r="3.13" fill="#fff" stroke="#ff0000" stroke-width="1.0"/>
<circle cx="191.63" cy="417.83" r="3.13" fill="#fff" stroke="#ff0000" stroke-width="1.0"/>
<circle cx="255.57" cy="392.70" r="3.13" fill="#fff" stroke="#ff0000" stroke-width="1.0"/>
<circle cx="303.53" cy="369.27" r="3.13" fill="#fff" stroke="#ff0000" stroke-width="1.0"/>
<polyline points="63.77,454.47 111.73,428.06 143.69,419.96 191.63,399.09 255.57,380.77 303.53,394.83" fill="none" stroke="#ff00ff" stroke-width="1.05"/>
<path d="M63.77 459.01L67.77 452.20L59.78 452.20Z" fill="#fff" stroke="#ff00ff" stroke-width="1.0" stroke-linejoin="miter"/>
<path d="M111.73 432.59L115.72 425.79L107.73 425.79Z" fill="#fff" stroke="#ff00ff" stroke-width="1.0" stroke-linejoin="miter"/>
<path d="M143.69 424.50L147.69 417.70L139.70 417.70Z" fill="#fff" stroke="#ff00ff" stroke-width="1.0" stroke-linejoin="miter"/>
<path d="M191.63 403.63L195.63 396.82L187.64 396.82Z" fill="#fff" stroke="#ff00ff" stroke-width="1.0" stroke-linejoin="miter"/>
<path d="M255.57 385.31L259.57 378.50L251.58 378.50Z" fill="#fff" stroke="#ff00ff" stroke-width="1.0" stroke-linejoin="miter"/>
<path d="M303.53 399.37L307.52 392.56L299.53 392.56Z" fill="#fff" stroke="#ff00ff" stroke-width="1.0" stroke-linejoin="miter"/>
<polyline points="63.77,499.20 111.73,432.32 143.69,417.83 191.63,397.81 255.57,384.18 303.53,371.40" fill="none" stroke="#000080" stroke-width="1.05"/>
<path d="M59.24 499.20L66.04 495.20L66.04 503.20Z" fill="#fff" stroke="#000080" stroke-width="1.0" stroke-linejoin="miter"/>
<path d="M107.19 432.32L113.99 428.32L113.99 436.31Z" fill="#fff" stroke="#000080" stroke-width="1.0" stroke-linejoin="miter"/>
<path d="M139.16 417.83L145.96 413.84L145.96 421.83Z" fill="#fff" stroke="#000080" stroke-width="1.0" stroke-linejoin="miter"/>
<path d="M187.10 397.81L193.90 393.82L193.90 401.81Z" fill="#fff" stroke="#000080" stroke-width="1.0" stroke-linejoin="miter"/>
<path d="M251.04 384.18L257.84 380.18L257.84 388.18Z" fill="#fff" stroke="#000080" stroke-width="1.0" stroke-linejoin="miter"/>
<path d="M298.99 371.40L305.79 367.40L305.79 375.40Z" fill="#fff" stroke="#000080" stroke-width="1.0" stroke-linejoin="miter"/>
<polyline points="63.77,477.90 111.73,460.86 143.69,452.34 191.63,432.74 255.57,405.48 303.53,403.35" fill="none" stroke="#8000ff" stroke-width="1.05"/>
<path d="M68.31 477.90L61.51 473.90L61.51 481.90Z" fill="#fff" stroke="#8000ff" stroke-width="1.0" stroke-linejoin="miter"/>
<path d="M116.26 460.86L109.46 456.86L109.46 464.86Z" fill="#fff" stroke="#8000ff" stroke-width="1.0" stroke-linejoin="miter"/>
<path d="M148.23 452.34L141.42 448.34L141.42 456.34Z" fill="#fff" stroke="#8000ff" stroke-width="1.0" stroke-linejoin="miter"/>
<path d="M196.17 432.74L189.37 428.75L189.37 436.74Z" fill="#fff" stroke="#8000ff" stroke-width="1.0" stroke-linejoin="miter"/>
<path d="M260.11 405.48L253.31 401.48L253.31 409.48Z" fill="#fff" stroke="#8000ff" stroke-width="1.0" stroke-linejoin="miter"/>
<path d="M308.06 403.35L301.26 399.35L301.26 407.35Z" fill="#fff" stroke="#8000ff" stroke-width="1.0" stroke-linejoin="miter"/>
<polyline points="63.77,452.34 111.73,429.34 143.69,413.15 191.63,382.90 255.57,352.23 303.53,323.69" fill="none" stroke="#008000" stroke-width="1.05"/>
<path d="M63.77 448.13L67.99 452.34L63.77 456.55L59.56 452.34Z" fill="#fff" stroke="#008000" stroke-width="1.0"/>
<path d="M111.73 425.12L115.94 429.34L111.73 433.55L107.51 429.34Z" fill="#fff" stroke="#008000" stroke-width="1.0"/>
<path d="M143.69 408.94L147.90 413.15L143.69 417.36L139.48 413.15Z" fill="#fff" stroke="#008000" stroke-width="1.0"/>
<path d="M191.63 378.69L195.85 382.90L191.63 387.11L187.42 382.90Z" fill="#fff" stroke="#008000" stroke-width="1.0"/>
<path d="M255.57 348.02L259.79 352.23L255.57 356.44L251.36 352.23Z" fill="#fff" stroke="#008000" stroke-width="1.0"/>
<path d="M303.53 319.48L307.74 323.69L303.53 327.90L299.31 323.69Z" fill="#fff" stroke="#008000" stroke-width="1.0"/>
<polyline points="63.77,451.06 111.73,437.43 143.69,425.93 191.63,410.59 255.57,408.89 303.53,399.94" fill="none" stroke="#800000" stroke-width="1.05"/>
<path d="M63.77 447.37L64.79 449.96L67.58 450.13L65.42 451.90L66.12 454.59L63.77 453.09L61.43 454.59L62.13 451.90L59.97 450.13L62.76 449.96Z" fill="#fff" stroke="#800000" stroke-width="1.0"/>
<path d="M111.73 433.73L112.74 436.33L115.53 436.50L113.37 438.26L114.07 440.96L111.73 439.46L109.38 440.96L110.08 438.26L107.92 436.50L110.71 436.33Z" fill="#fff" stroke="#800000" stroke-width="1.0"/>
<path d="M143.69 422.23L144.71 424.83L147.49 424.99L145.34 426.76L146.04 429.46L143.69 427.96L141.34 429.46L142.05 426.76L139.89 424.99L142.68 424.83Z" fill="#fff" stroke="#800000" stroke-width="1.0"/>
<path d="M191.63 406.90L192.65 409.49L195.43 409.66L193.28 411.43L193.98 414.12L191.63 412.62L189.28 414.12L189.99 411.43L187.83 409.66L190.62 409.49Z" fill="#fff" stroke="#800000" stroke-width="1.0"/>
<path d="M255.57 405.19L256.59 407.79L259.38 407.95L257.22 409.72L257.92 412.42L255.57 410.92L253.23 412.42L253.93 409.72L251.77 407.95L254.56 407.79Z" fill="#fff" stroke="#800000" stroke-width="1.0"/>
<path d="M303.53 396.25L304.54 398.84L307.33 399.01L305.17 400.78L305.87 403.47L303.53 401.97L301.18 403.47L301.88 400.78L299.72 399.01L302.51 398.84Z" fill="#fff" stroke="#800000" stroke-width="1.0"/>
<polyline points="63.77,465.97 111.73,463.84 143.69,462.56 191.63,458.73 255.57,457.03 303.53,454.47" fill="none" stroke="#800080" stroke-width="1.05"/>
<circle cx="63.77" cy="465.97" r="3.13" fill="#fff" stroke="#800080" stroke-width="1.0"/>
<circle cx="111.73" cy="463.84" r="3.13" fill="#fff" stroke="#800080" stroke-width="1.0"/>
<circle cx="143.69" cy="462.56" r="3.13" fill="#fff" stroke="#800080" stroke-width="1.0"/>
<circle cx="191.63" cy="458.73" r="3.13" fill="#fff" stroke="#800080" stroke-width="1.0"/>
<circle cx="255.57" cy="457.03" r="3.13" fill="#fff" stroke="#800080" stroke-width="1.0"/>
<circle cx="303.53" cy="454.47" r="3.13" fill="#fff" stroke="#800080" stroke-width="1.0"/>
<polyline points="63.77,450.21 111.73,416.56 143.69,410.59 191.63,396.96 255.57,354.79 303.53,348.82" fill="none" stroke="#000000" stroke-width="1.05"/>
<rect x="60.53" y="446.97" width="6.48" height="6.48" fill="#000000"/>
<rect x="108.49" y="413.32" width="6.48" height="6.48" fill="#000000"/>
<rect x="140.45" y="407.35" width="6.48" height="6.48" fill="#000000"/>
<rect x="188.39" y="393.72" width="6.48" height="6.48" fill="#000000"/>
<rect x="252.33" y="351.55" width="6.48" height="6.48" fill="#000000"/>
<rect x="300.29" y="345.58" width="6.48" height="6.48" fill="#000000"/>
<rect x="394.80" y="307.50" width="288.50" height="213.10" fill="none" stroke="#333" stroke-width="1.3"/>
<line x1="394.80" y1="520.60" x2="394.80" y2="523.20" stroke="#333" stroke-width="1.3"/>
<line x1="418.84" y1="520.60" x2="418.84" y2="524.80" stroke="#333" stroke-width="1.3"/>
<text x="418.84" y="537.90" class="tk" text-anchor="middle">0.0</text>
<line x1="442.88" y1="520.60" x2="442.88" y2="523.20" stroke="#333" stroke-width="1.3"/>
<line x1="466.93" y1="520.60" x2="466.93" y2="524.80" stroke="#333" stroke-width="1.3"/>
<text x="466.93" y="537.90" class="tk" text-anchor="middle">0.2</text>
<line x1="490.97" y1="520.60" x2="490.97" y2="523.20" stroke="#333" stroke-width="1.3"/>
<line x1="515.01" y1="520.60" x2="515.01" y2="524.80" stroke="#333" stroke-width="1.3"/>
<text x="515.01" y="537.90" class="tk" text-anchor="middle">0.4</text>
<line x1="539.05" y1="520.60" x2="539.05" y2="523.20" stroke="#333" stroke-width="1.3"/>
<line x1="563.09" y1="520.60" x2="563.09" y2="524.80" stroke="#333" stroke-width="1.3"/>
<text x="563.09" y="537.90" class="tk" text-anchor="middle">0.6</text>
<line x1="587.13" y1="520.60" x2="587.13" y2="523.20" stroke="#333" stroke-width="1.3"/>
<line x1="611.17" y1="520.60" x2="611.17" y2="524.80" stroke="#333" stroke-width="1.3"/>
<text x="611.17" y="537.90" class="tk" text-anchor="middle">0.8</text>
<line x1="635.22" y1="520.60" x2="635.22" y2="523.20" stroke="#333" stroke-width="1.3"/>
<line x1="659.26" y1="520.60" x2="659.26" y2="524.80" stroke="#333" stroke-width="1.3"/>
<text x="659.26" y="537.90" class="tk" text-anchor="middle">1.0</text>
<line x1="683.30" y1="520.60" x2="683.30" y2="523.20" stroke="#333" stroke-width="1.3"/>
<line x1="390.60" y1="520.60" x2="394.80" y2="520.60" stroke="#333" stroke-width="1.3"/>
<text x="386.20" y="524.50" class="tk" text-anchor="end">0</text>
<line x1="392.60" y1="499.29" x2="394.80" y2="499.29" stroke="#333" stroke-width="1.3"/>
<line x1="390.60" y1="477.98" x2="394.80" y2="477.98" stroke="#333" stroke-width="1.3"/>
<text x="386.20" y="481.88" class="tk" text-anchor="end">1</text>
<line x1="392.60" y1="456.67" x2="394.80" y2="456.67" stroke="#333" stroke-width="1.3"/>
<line x1="390.60" y1="435.36" x2="394.80" y2="435.36" stroke="#333" stroke-width="1.3"/>
<text x="386.20" y="439.26" class="tk" text-anchor="end">2</text>
<line x1="392.60" y1="414.05" x2="394.80" y2="414.05" stroke="#333" stroke-width="1.3"/>
<line x1="390.60" y1="392.74" x2="394.80" y2="392.74" stroke="#333" stroke-width="1.3"/>
<text x="386.20" y="396.64" class="tk" text-anchor="end">3</text>
<line x1="392.60" y1="371.43" x2="394.80" y2="371.43" stroke="#333" stroke-width="1.3"/>
<line x1="390.60" y1="350.12" x2="394.80" y2="350.12" stroke="#333" stroke-width="1.3"/>
<text x="386.20" y="354.02" class="tk" text-anchor="end">4</text>
<line x1="392.60" y1="328.81" x2="394.80" y2="328.81" stroke="#333" stroke-width="1.3"/>
<line x1="390.60" y1="307.50" x2="394.80" y2="307.50" stroke="#333" stroke-width="1.3"/>
<text x="386.20" y="311.40" class="tk" text-anchor="end">5</text>
<polyline points="418.84,451.98 466.93,441.33 498.98,439.20 547.06,428.97 611.17,434.08 659.26,441.75" fill="none" stroke="#0000ff" stroke-width="1.05"/>
<path d="M418.84 447.45L422.84 454.25L414.85 454.25Z" fill="#fff" stroke="#0000ff" stroke-width="1.0" stroke-linejoin="miter"/>
<path d="M466.93 436.79L470.92 443.59L462.93 443.59Z" fill="#fff" stroke="#0000ff" stroke-width="1.0" stroke-linejoin="miter"/>
<path d="M498.98 434.66L502.98 441.46L494.98 441.46Z" fill="#fff" stroke="#0000ff" stroke-width="1.0" stroke-linejoin="miter"/>
<path d="M547.06 424.43L551.05 431.23L543.06 431.23Z" fill="#fff" stroke="#0000ff" stroke-width="1.0" stroke-linejoin="miter"/>
<path d="M611.17 429.55L615.17 436.35L607.18 436.35Z" fill="#fff" stroke="#0000ff" stroke-width="1.0" stroke-linejoin="miter"/>
<path d="M659.26 437.22L663.25 444.02L655.26 444.02Z" fill="#fff" stroke="#0000ff" stroke-width="1.0" stroke-linejoin="miter"/>
<polyline points="418.84,469.46 466.93,458.37 498.98,451.98 547.06,435.36 611.17,417.03 659.26,401.26" fill="none" stroke="#ff0000" stroke-width="1.05"/>
<circle cx="418.84" cy="469.46" r="3.13" fill="#fff" stroke="#ff0000" stroke-width="1.0"/>
<circle cx="466.93" cy="458.37" r="3.13" fill="#fff" stroke="#ff0000" stroke-width="1.0"/>
<circle cx="498.98" cy="451.98" r="3.13" fill="#fff" stroke="#ff0000" stroke-width="1.0"/>
<circle cx="547.06" cy="435.36" r="3.13" fill="#fff" stroke="#ff0000" stroke-width="1.0"/>
<circle cx="611.17" cy="417.03" r="3.13" fill="#fff" stroke="#ff0000" stroke-width="1.0"/>
<circle cx="659.26" cy="401.26" r="3.13" fill="#fff" stroke="#ff0000" stroke-width="1.0"/>
<polyline points="418.84,466.05 466.93,444.74 498.98,437.49 547.06,419.16 611.17,417.03 659.26,419.59" fill="none" stroke="#ff00ff" stroke-width="1.05"/>
<path d="M418.84 470.58L422.84 463.78L414.85 463.78Z" fill="#fff" stroke="#ff00ff" stroke-width="1.0" stroke-linejoin="miter"/>
<path d="M466.93 449.27L470.92 442.47L462.93 442.47Z" fill="#fff" stroke="#ff00ff" stroke-width="1.0" stroke-linejoin="miter"/>
<path d="M498.98 442.03L502.98 435.22L494.98 435.22Z" fill="#fff" stroke="#ff00ff" stroke-width="1.0" stroke-linejoin="miter"/>
<path d="M547.06 423.70L551.05 416.90L543.06 416.90Z" fill="#fff" stroke="#ff00ff" stroke-width="1.0" stroke-linejoin="miter"/>
<path d="M611.17 421.57L615.17 414.77L607.18 414.77Z" fill="#fff" stroke="#ff00ff" stroke-width="1.0" stroke-linejoin="miter"/>
<path d="M659.26 424.13L663.25 417.32L655.26 417.32Z" fill="#fff" stroke="#ff00ff" stroke-width="1.0" stroke-linejoin="miter"/>
<polyline points="418.84,477.98 466.93,453.69 498.98,441.75 547.06,428.97 611.17,418.74 659.26,410.64" fill="none" stroke="#000080" stroke-width="1.05"/>
<path d="M414.31 477.98L421.11 473.98L421.11 481.98Z" fill="#fff" stroke="#000080" stroke-width="1.0" stroke-linejoin="miter"/>
<path d="M462.39 453.69L469.19 449.69L469.19 457.68Z" fill="#fff" stroke="#000080" stroke-width="1.0" stroke-linejoin="miter"/>
<path d="M494.44 441.75L501.25 437.76L501.25 445.75Z" fill="#fff" stroke="#000080" stroke-width="1.0" stroke-linejoin="miter"/>
<path d="M542.52 428.97L549.32 424.97L549.32 432.96Z" fill="#fff" stroke="#000080" stroke-width="1.0" stroke-linejoin="miter"/>
<path d="M606.64 418.74L613.44 414.74L613.44 422.73Z" fill="#fff" stroke="#000080" stroke-width="1.0" stroke-linejoin="miter"/>
<path d="M654.72 410.64L661.53 406.64L661.53 414.64Z" fill="#fff" stroke="#000080" stroke-width="1.0" stroke-linejoin="miter"/>
<polyline points="418.84,477.98 466.93,468.60 498.98,461.36 547.06,445.16 611.17,432.80 659.26,426.41" fill="none" stroke="#8000ff" stroke-width="1.05"/>
<path d="M423.38 477.98L416.57 473.98L416.57 481.98Z" fill="#fff" stroke="#8000ff" stroke-width="1.0" stroke-linejoin="miter"/>
<path d="M471.46 468.60L464.66 464.61L464.66 472.60Z" fill="#fff" stroke="#8000ff" stroke-width="1.0" stroke-linejoin="miter"/>
<path d="M503.52 461.36L496.71 457.36L496.71 465.35Z" fill="#fff" stroke="#8000ff" stroke-width="1.0" stroke-linejoin="miter"/>
<path d="M551.59 445.16L544.79 441.17L544.79 449.16Z" fill="#fff" stroke="#8000ff" stroke-width="1.0" stroke-linejoin="miter"/>
<path d="M615.71 432.80L608.91 428.81L608.91 436.80Z" fill="#fff" stroke="#8000ff" stroke-width="1.0" stroke-linejoin="miter"/>
<path d="M663.79 426.41L656.99 422.41L656.99 430.41Z" fill="#fff" stroke="#8000ff" stroke-width="1.0" stroke-linejoin="miter"/>
<polyline points="418.84,462.64 466.93,448.15 498.98,438.34 547.06,420.44 611.17,401.26 659.26,384.64" fill="none" stroke="#008000" stroke-width="1.05"/>
<path d="M418.84 458.42L423.05 462.64L418.84 466.85L414.63 462.64Z" fill="#fff" stroke="#008000" stroke-width="1.0"/>
<path d="M466.93 443.93L471.14 448.15L466.93 452.36L462.71 448.15Z" fill="#fff" stroke="#008000" stroke-width="1.0"/>
<path d="M498.98 434.13L503.19 438.34L498.98 442.56L494.77 438.34Z" fill="#fff" stroke="#008000" stroke-width="1.0"/>
<path d="M547.06 416.23L551.27 420.44L547.06 424.65L542.84 420.44Z" fill="#fff" stroke="#008000" stroke-width="1.0"/>
<path d="M611.17 397.05L615.39 401.26L611.17 405.48L606.96 401.26Z" fill="#fff" stroke="#008000" stroke-width="1.0"/>
<path d="M659.26 380.43L663.47 384.64L659.26 388.85L655.05 384.64Z" fill="#fff" stroke="#008000" stroke-width="1.0"/>
<polyline points="418.84,469.46 466.93,458.37 498.98,451.13 547.06,440.26 611.17,439.62 659.26,433.23" fill="none" stroke="#800000" stroke-width="1.05"/>
<path d="M418.84 465.76L419.86 468.36L422.64 468.52L420.49 470.29L421.19 472.99L418.84 471.48L416.49 472.99L417.20 470.29L415.04 468.52L417.83 468.36Z" fill="#fff" stroke="#800000" stroke-width="1.0"/>
<path d="M466.93 454.68L467.94 457.28L470.73 457.44L468.57 459.21L469.27 461.91L466.93 460.40L464.58 461.91L465.28 459.21L463.12 457.44L465.91 457.28Z" fill="#fff" stroke="#800000" stroke-width="1.0"/>
<path d="M498.98 447.43L500.00 450.03L502.78 450.19L500.62 451.96L501.33 454.66L498.98 453.16L496.63 454.66L497.34 451.96L495.18 450.19L497.96 450.03Z" fill="#fff" stroke="#800000" stroke-width="1.0"/>
<path d="M547.06 436.57L548.07 439.16L550.86 439.33L548.70 441.10L549.40 443.79L547.06 442.29L544.71 443.79L545.41 441.10L543.26 439.33L546.04 439.16Z" fill="#fff" stroke="#800000" stroke-width="1.0"/>
<path d="M611.17 435.93L612.19 438.52L614.98 438.69L612.82 440.46L613.52 443.15L611.17 441.65L608.83 443.15L609.53 440.46L607.37 438.69L610.16 438.52Z" fill="#fff" stroke="#800000" stroke-width="1.0"/>
<path d="M659.26 429.53L660.27 432.13L663.06 432.29L660.90 434.06L661.61 436.76L659.26 435.26L656.91 436.76L657.61 434.06L655.46 432.29L658.24 432.13Z" fill="#fff" stroke="#800000" stroke-width="1.0"/>
<polyline points="418.84,472.87 466.93,472.87 498.98,472.87 547.06,472.44 611.17,472.44 659.26,472.01" fill="none" stroke="#800080" stroke-width="1.05"/>
<circle cx="418.84" cy="472.87" r="3.13" fill="#fff" stroke="#800080" stroke-width="1.0"/>
<circle cx="466.93" cy="472.87" r="3.13" fill="#fff" stroke="#800080" stroke-width="1.0"/>
<circle cx="498.98" cy="472.87" r="3.13" fill="#fff" stroke="#800080" stroke-width="1.0"/>
<circle cx="547.06" cy="472.44" r="3.13" fill="#fff" stroke="#800080" stroke-width="1.0"/>
<circle cx="611.17" cy="472.44" r="3.13" fill="#fff" stroke="#800080" stroke-width="1.0"/>
<circle cx="659.26" cy="472.01" r="3.13" fill="#fff" stroke="#800080" stroke-width="1.0"/>
<polyline points="418.84,467.75 466.93,443.03 498.98,443.03 547.06,407.66 611.17,407.23 659.26,382.51" fill="none" stroke="#000000" stroke-width="1.05"/>
<rect x="415.60" y="464.51" width="6.48" height="6.48" fill="#000000"/>
<rect x="463.69" y="439.79" width="6.48" height="6.48" fill="#000000"/>
<rect x="495.74" y="439.79" width="6.48" height="6.48" fill="#000000"/>
<rect x="543.82" y="404.42" width="6.48" height="6.48" fill="#000000"/>
<rect x="607.93" y="403.99" width="6.48" height="6.48" fill="#000000"/>
<rect x="656.02" y="379.27" width="6.48" height="6.48" fill="#000000"/>
<text x="135.6" y="253.8" class="al" textLength="125.3" lengthAdjust="spacing">Corner radius ratio (<tspan font-style="italic">r</tspan><tspan font-size="9.5" dy="2.6">c</tspan><tspan dy="-2.6">)</tspan></text>
<text x="488.6" y="252.4" class="al" textLength="126.3" lengthAdjust="spacing">Corner radius ratio (<tspan font-style="italic">r</tspan><tspan font-size="9.5" dy="2.6">c</tspan><tspan dy="-2.6">)</tspan></text>
<text x="123.1" y="558.0" class="al" textLength="125.7" lengthAdjust="spacing">Corner radius ratio (<tspan font-style="italic">r</tspan><tspan font-size="9.5" dy="2.6">c</tspan><tspan dy="-2.6">)</tspan></text>
<text x="479.2" y="558.0" class="al" textLength="125.7" lengthAdjust="spacing">Corner radius ratio (<tspan font-style="italic">r</tspan><tspan font-size="9.5" dy="2.6">c</tspan><tspan dy="-2.6">)</tspan></text>
<text transform="translate(11.2,169.3) rotate(-90)" class="al" style="font-size:13.50px"><tspan x="0">Strength</tspan><tspan x="50.10">gain</tspan><tspan x="75.20">(</tspan><tspan x="82.00" font-style="italic" font-size="14.00">f</tspan><tspan x="86.30" dy="-0.6">′</tspan><tspan x="88.40" font-size="9.00" dy="3.2">cc</tspan><tspan x="96.10" dy="-2.6">/</tspan><tspan x="100.50" font-style="italic" font-size="14.00">f</tspan><tspan x="105.10" dy="-0.6">′</tspan><tspan x="107.20" font-size="9.00" dy="3.2">co</tspan><tspan x="115.00" dy="-2.6">)</tspan></text>
<text transform="translate(368.2,172.8) rotate(-90)" class="al" style="font-size:13.50px"><tspan x="0">Strength</tspan><tspan x="49.35">gain</tspan><tspan x="75.98">(</tspan><tspan x="82.67" font-style="italic" font-size="13.79">f</tspan><tspan x="86.91" dy="-0.6">′</tspan><tspan x="88.98" font-size="8.87" dy="3.2">cc</tspan><tspan x="96.56" dy="-2.6">/</tspan><tspan x="100.90" font-style="italic" font-size="13.79">f</tspan><tspan x="105.43" dy="-0.6">′</tspan><tspan x="107.50" font-size="8.87" dy="3.2">co</tspan><tspan x="115.18" dy="-2.6">)</tspan></text>
<text transform="translate(13.6,474.1) rotate(-90)" class="al" style="font-size:13.80px"><tspan x="0">Strength</tspan><tspan x="51.10">gain</tspan><tspan x="77.00">(</tspan><tspan x="83.93" font-style="italic" font-size="14.28">f</tspan><tspan x="88.32" dy="-0.6">′</tspan><tspan x="90.46" font-size="9.18" dy="3.2">cc</tspan><tspan x="98.32" dy="-2.6">/</tspan><tspan x="102.80" font-style="italic" font-size="14.28">f</tspan><tspan x="107.50" dy="-0.6">′</tspan><tspan x="109.64" font-size="9.18" dy="3.2">co</tspan><tspan x="117.59" dy="-2.6">)</tspan></text>
<text transform="translate(367.2,477.7) rotate(-90)" class="al" style="font-size:13.80px"><tspan x="0">Strength</tspan><tspan x="51.10">gain</tspan><tspan x="77.60">(</tspan><tspan x="84.53" font-style="italic" font-size="14.28">f</tspan><tspan x="88.92" dy="-0.6">′</tspan><tspan x="91.06" font-size="9.18" dy="3.2">cc</tspan><tspan x="98.92" dy="-2.6">/</tspan><tspan x="103.40" font-style="italic" font-size="14.28">f</tspan><tspan x="108.10" dy="-0.6">′</tspan><tspan x="110.24" font-size="9.18" dy="3.2">co</tspan><tspan x="118.19" dy="-2.6">)</tspan></text>
<text x="133.29999999999998" y="277.3" class="cp" font-weight="bold" style="font-size:14.4px">(a)</text>
<text x="155.0" y="277.3" class="cp" textLength="86.1" lengthAdjust="spacing">PEN FRP-1 ply</text>
<text x="489.5" y="276.9" class="cp" font-weight="bold" style="font-size:14.4px">(b)</text>
<text x="511.0" y="276.9" class="cp" textLength="85.1" lengthAdjust="spacing">PET FRP-1 ply</text>
<text x="126.9" y="581.9" class="cp" font-weight="bold" style="font-size:14.4px">(c)</text>
<text x="148.9" y="581.9" class="cp" textLength="94.7" lengthAdjust="spacing">PEN FRP-2 plies</text>
<text x="483.0" y="581.9" class="cp" font-weight="bold" style="font-size:14.4px">(d)</text>
<text x="505.1" y="581.9" class="cp" textLength="93.2" lengthAdjust="spacing">PET FRP-2 plies</text>
</svg>
</body></html>
